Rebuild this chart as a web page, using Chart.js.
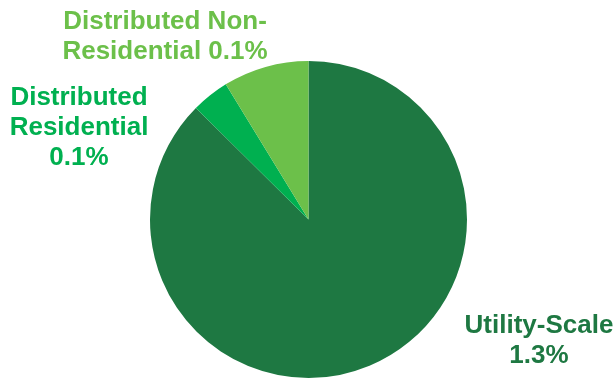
<!DOCTYPE html>
<html>
<head>
<meta charset="utf-8">
<script src="https://cdn.jsdelivr.net/npm/chart.js@4/dist/chart.umd.min.js"></script>
<style>
  html, body { margin: 0; padding: 0; background: #ffffff; }
  #wrap { width: 616px; height: 381px; position: relative; }
</style>
</head>
<body>
<div id="wrap"><canvas id="c" width="616" height="381"></canvas></div>
<script>
// ---- data ----
const categories = ["Utility-Scale", "Distributed Residential", "Distributed Non-Residential"];
const shares = [1.3, 0.057, 0.13];          // percent
const sliceColors = ["#1E7842", "#00B050", "#6CC04A"];

// ---- label layout (text wrapping + anchor positions, style only) ----
const labelWrap = [
  ["Utility-Scale", "{v}"],
  ["Distributed", "Residential", "{v}"],
  ["Distributed Non-", "Residential {v}"]
];
const labelAnchors = [
  { x: 539, y: 333 },
  { x: 79,  y: 105 },
  { x: 165, y: 29 }
];
const labelColors = ["#1E7842", "#00B050", "#6CC04A"];

const labelPlugin = {
  id: 'sliceLabels',
  afterDraw(chart) {
    const ctx = chart.ctx;
    const ds = chart.data.datasets[0];
    ctx.save();
    ctx.font = 'bold 26px "Liberation Sans", Arial, sans-serif';
    ctx.textAlign = 'center';
    ctx.textBaseline = 'alphabetic';
    chart.data.labels.forEach((lab, i) => {
      const val = ds.data[i].toFixed(1) + '%';
      const lines = labelWrap[i].map(s => s.replace('{v}', val));
      ctx.fillStyle = labelColors[i];
      lines.forEach((ln, k) => {
        ctx.fillText(ln, labelAnchors[i].x, labelAnchors[i].y + k * 30);
      });
    });
    ctx.restore();
  }
};

new Chart(document.getElementById('c'), {
  type: 'pie',
  data: {
    labels: categories,
    datasets: [{
      data: shares,
      backgroundColor: sliceColors,
      borderWidth: 0
    }]
  },
  options: {
    responsive: false,
    animation: false,
    layout: { padding: { top: 61, bottom: 3, left: 1, right: 0 } },
    plugins: {
      legend: { display: false },
      tooltip: { enabled: false }
    }
  },
  plugins: [labelPlugin]
});
</script>
</body>
</html>
